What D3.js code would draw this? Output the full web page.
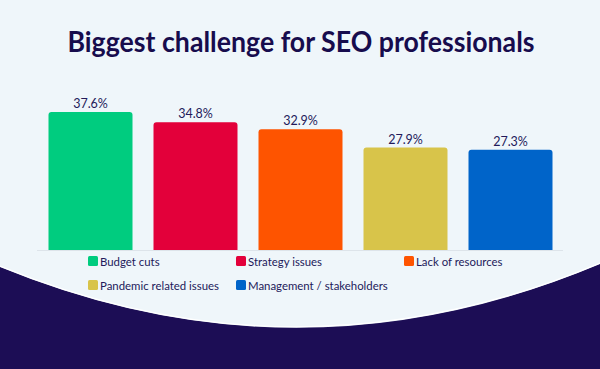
<!DOCTYPE html>
<html>
<head>
<meta charset="utf-8">
<script src="https://cdn.jsdelivr.net/npm/d3@7"></script>
<style>
  html, body { margin: 0; padding: 0; background: #eff6fa; }
  svg { display: block; }
</style>
</head>
<body>
<svg id="chart" width="600" height="369"></svg>
<script>
const categories = ["Budget cuts", "Strategy issues", "Lack of resources", "Pandemic related issues", "Management / stakeholders"];
const values = [37.6, 34.8, 32.9, 27.9, 27.3];
const colors = ["#00cc7f", "#e3003a", "#fe5400", "#d8c44a", "#0064c9"];
const title = "Biggest challenge for SEO professionals";

const W = 600, H = 369;
const svg = d3.select("#chart");
const navy = "#1c0d55";
const textNavy = "#231a5a";

// background
svg.append("rect").attr("width", W).attr("height", H).attr("fill", "#eff6fa");

// dark curved bottom
const curve = d3.path();
curve.moveTo(0, 267);
curve.quadraticCurveTo(300, 390, 600, 264);
const fillPath = d3.path();
fillPath.moveTo(0, 267);
fillPath.quadraticCurveTo(300, 390, 600, 264);
fillPath.lineTo(600, H);
fillPath.lineTo(0, H);
fillPath.closePath();
svg.append("path").attr("d", fillPath.toString()).attr("fill", navy);
svg.append("path").attr("d", curve.toString()).attr("fill", "none")
  .attr("stroke", "#ffffff").attr("stroke-width", 1.2).attr("transform", "translate(0,-1)");

// title
svg.append("text")
  .attr("x", 301).attr("y", 52)
  .attr("text-anchor", "middle")
  .attr("font-family", "Lato, 'Open Sans', sans-serif")
  .attr("font-weight", 700)
  .attr("font-size", 28)
  .attr("textLength", 467)
  .attr("lengthAdjust", "spacingAndGlyphs")
  .attr("fill", "#170c4d")
  .text(title);

// scales
const x = d3.scaleBand().domain(categories).range([38, 563]).paddingInner(0.2).paddingOuter(0.1);
const y = d3.scaleLinear().domain([0, 40]).range([250, 103.2]);

// baseline
svg.append("line")
  .attr("x1", 37).attr("x2", 563).attr("y1", 250.5).attr("y2", 250.5)
  .attr("stroke", "#dde4ea").attr("stroke-width", 1);

// bars
const r = 3;
svg.selectAll("path.bar").data(categories).enter().append("path")
  .attr("class", "bar")
  .attr("fill", (d, i) => colors[i])
  .attr("d", (d, i) => {
    const x0 = x(d), w = x.bandwidth(), y0 = y(values[i]), yb = y(0);
    const p = d3.path();
    p.moveTo(x0, yb);
    p.lineTo(x0, y0 + r);
    p.arcTo(x0, y0, x0 + r, y0, r);
    p.lineTo(x0 + w - r, y0);
    p.arcTo(x0 + w, y0, x0 + w, y0 + r, r);
    p.lineTo(x0 + w, yb);
    p.closePath();
    return p.toString();
  });

// value labels
svg.selectAll("text.val").data(categories).enter().append("text")
  .attr("class", "val")
  .attr("x", d => x(d) + x.bandwidth() / 2)
  .attr("y", (d, i) => y(values[i]) - 4)
  .attr("text-anchor", "middle")
  .attr("font-family", "Lato, 'Open Sans', sans-serif")
  .attr("font-size", 12.5)
  .attr("fill", textNavy)
  .text((d, i) => values[i].toFixed(1) + "%");

// legend
const legendPos = [[88, 261], [236, 261], [404, 261], [88, 285], [236, 285]];
const lg = svg.selectAll("g.leg").data(categories).enter().append("g")
  .attr("class", "leg")
  .attr("transform", (d, i) => `translate(${legendPos[i][0]},${legendPos[i][1]})`);
lg.append("rect")
  .attr("x", 0).attr("y", -5).attr("width", 10).attr("height", 10).attr("rx", 1.5)
  .attr("fill", (d, i) => colors[i]);
lg.append("text")
  .attr("x", 12).attr("y", 4.5)
  .attr("font-family", "Lato, 'Open Sans', sans-serif")
  .attr("font-size", 11.4)
  .attr("fill", textNavy)
  .text(d => d);
</script>
</body>
</html>
